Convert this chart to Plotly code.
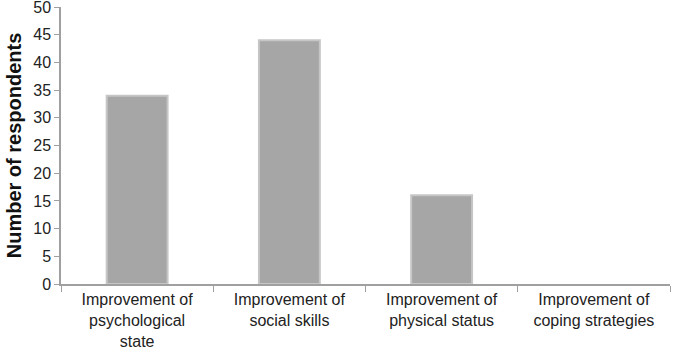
import plotly.graph_objects as go

categories = ["Improvement of<br>psychological<br>state",
              "Improvement of<br>social skills",
              "Improvement of<br>physical status",
              "Improvement of<br>coping strategies"]
values = [34, 44, 16, 0]
y_ticks = [0, 5, 10, 15, 20, 25, 30, 35, 40, 45, 50]

fig = go.Figure()
fig.add_trace(go.Bar(
    x=categories, y=values,
    marker=dict(color="#a6a6a6", line=dict(color="#c6c6c6", width=[2, 2, 2, 0])),
    width=0.4,
))

font = "Liberation Sans, Arial, sans-serif"
fig.update_layout(
    width=676, height=354,
    margin=dict(l=61, r=6, t=7, b=70),
    paper_bgcolor="white", plot_bgcolor="white",
    showlegend=False,
    font=dict(family=font, color="#222222", size=16),
    xaxis=dict(
        showline=True, linecolor="#a0a0a0", linewidth=1.5,
        ticks="outside", tickson="boundaries", ticklen=6, tickcolor="#a0a0a0",
        tickfont=dict(size=16, family=font, color="#222222"),
        showgrid=False, automargin=False,
    ),
    yaxis=dict(
        range=[0, 50], tickvals=y_ticks,
        showline=True, linecolor="#a0a0a0", linewidth=1.5,
        ticks="outside", ticklen=5, tickcolor="#a0a0a0",
        tickfont=dict(size=16, family=font, color="#222222"),
        ticklabeloverflow="allow",
        showgrid=False, zeroline=False, automargin=False,
        title=dict(text="<b>Number of respondents</b>", font=dict(size=20, family=font, color="#111111"), standoff=6),
    ),
)
fig.write_html("out.html")
